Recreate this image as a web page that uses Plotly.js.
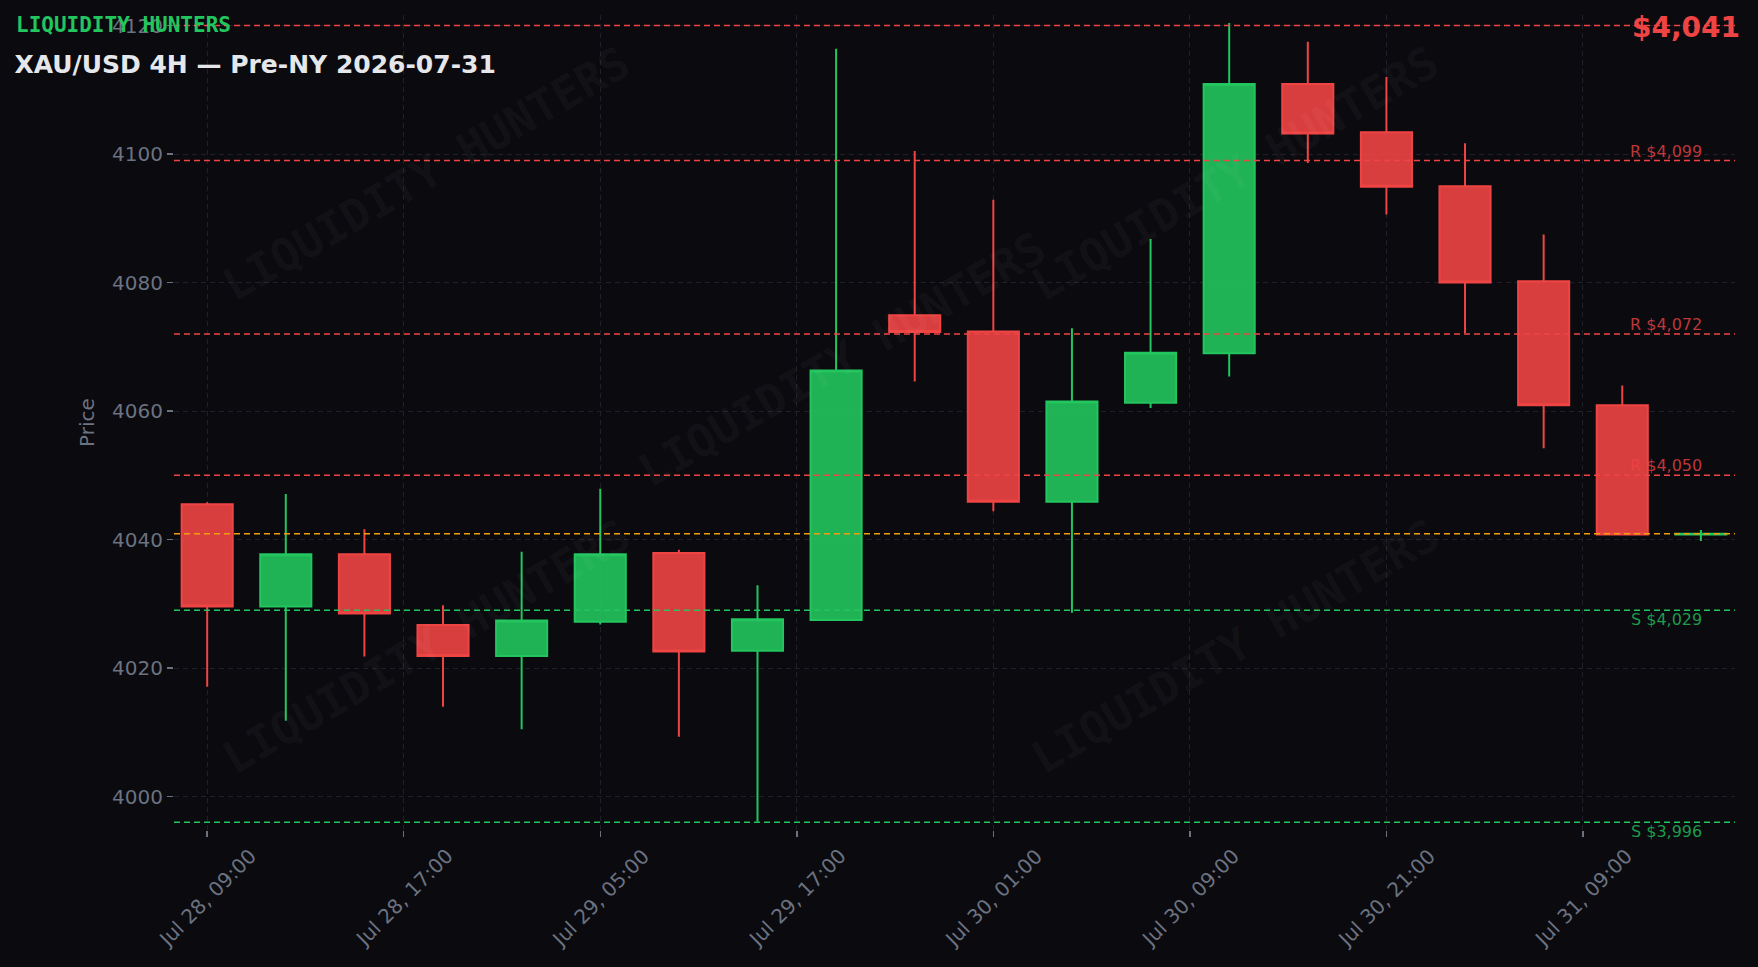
<!DOCTYPE html>
<html>
<head>
<meta charset="utf-8">
<script src="https://cdn.plot.ly/plotly-3.0.1.min.js"></script>
<style>
  html, body { margin: 0; padding: 0; background: #0a0a0f; }
  #chart { width: 1758px; height: 967px; }
</style>
</head>
<body>
<div id="chart"></div>
<script>
// ---- Data ----
const candleIndex = [0,1,2,3,4,5,6,7,8,9,10,11,12,13,14,15,16,17,18,19];
const opens  = [4045.5, 4029.6, 4037.7, 4026.7, 4021.9, 4027.2, 4037.9, 4022.7, 4027.5, 4074.9, 4072.4, 4045.9, 4061.3, 4069.0, 4110.9, 4103.4, 4095.0, 4080.2, 4060.9, 4040.8];
const highs  = [4045.8, 4047.1, 4041.6, 4029.8, 4038.1, 4047.9, 4038.4, 4032.9, 4116.4, 4100.5, 4092.9, 4072.9, 4086.8, 4120.4, 4117.5, 4112.0, 4101.7, 4087.5, 4064.0, 4041.5];
const lows   = [4017.1, 4011.8, 4021.8, 4014.0, 4010.5, 4026.8, 4009.3, 3996.1, 4027.5, 4064.6, 4044.4, 4028.6, 4060.5, 4065.4, 4098.6, 4090.6, 4072.1, 4054.2, 4040.7, 4039.8];
const closes = [4029.6, 4037.7, 4028.5, 4021.9, 4027.4, 4037.7, 4022.6, 4027.6, 4066.3, 4072.3, 4045.9, 4061.5, 4069.1, 4110.9, 4103.2, 4094.9, 4080.0, 4060.9, 4040.8, 4040.9];

const tickPositions = [0, 2.5, 5, 7.5, 10, 12.5, 15, 17.5];
const tickLabels = ['Jul 28, 09:00', 'Jul 28, 17:00', 'Jul 29, 05:00', 'Jul 29, 17:00',
                    'Jul 30, 01:00', 'Jul 30, 09:00', 'Jul 30, 21:00', 'Jul 31, 09:00'];

const rangeHigh = 4120;
const resistanceLevels = [4099, 4072, 4050];
const supportLevels = [4029, 3996];

const brand = 'LIQUIDITY HUNTERS';
const titleText = 'XAU/USD 4H — Pre-NY 2026-07-31';

// ---- Styles ----
const GREEN = '#22c55e', RED = '#ef4444', ORANGE = '#f59e0b';
const BG = '#0a0a0f', GRID = '#1f2029', MUTED = '#6b7280';
const LVL_DASH = '6px,4px';

const fmt = v => '$' + v.toLocaleString('en-US', {maximumFractionDigits: 0});
const lastClose = closes[closes.length - 1];

const trace = {
  type: 'candlestick',
  x: candleIndex,
  open: opens, high: highs, low: lows, close: closes,
  increasing: { line: { color: GREEN, width: 2 }, fillcolor: 'rgba(34,197,94,0.9)' },
  decreasing: { line: { color: RED, width: 2 }, fillcolor: 'rgba(239,68,68,0.9)' },
  hoverinfo: 'skip',
  showlegend: false
};

const hline = (y, color) => ({
  type: 'line', xref: 'paper', x0: 0, x1: 1, yref: 'y', y0: y, y1: y,
  line: { color: color, width: 1.5, dash: LVL_DASH }
});

const shapes = [hline(rangeHigh, RED)]
  .concat(resistanceLevels.map(v => hline(v, RED)))
  .concat(supportLevels.map(v => hline(v, GREEN)))
  .concat([hline(lastClose, ORANGE)]);

const annotations = [];
resistanceLevels.forEach(v => annotations.push({
  xref: 'paper', x: 0.9801, xanchor: 'right', yref: 'y', y: v, yanchor: 'bottom', yshift: -2,
  text: 'R ' + fmt(v), showarrow: false,
  font: { family: 'DejaVu Sans', size: 16, color: 'rgba(239,68,68,0.78)' }
}));
supportLevels.forEach(v => annotations.push({
  xref: 'paper', x: 0.9801, xanchor: 'right', yref: 'y', y: v, yanchor: 'top', yshift: 2,
  text: 'S ' + fmt(v), showarrow: false,
  font: { family: 'DejaVu Sans', size: 16, color: 'rgba(34,197,94,0.78)' }
}));

// x tick labels, rotated around their centre below each tick
tickPositions.forEach((p, i) => annotations.push({
  xref: 'x', x: p, yref: 'paper', y: -0.0834, xanchor: 'center', yanchor: 'middle',
  text: tickLabels[i], showarrow: false, textangle: -45,
  font: { family: 'DejaVu Sans', size: 20, color: MUTED }
}));

// watermarks
const wmPos = [[0.162, 0.805], [0.428, 0.577], [0.162, 0.225], [0.680, 0.805], [0.680, 0.225]];
wmPos.forEach(p => annotations.push({
  xref: 'paper', yref: 'paper', x: p[0], y: p[1], xanchor: 'center', yanchor: 'middle',
  text: brand, showarrow: false, textangle: -30,
  font: { family: 'DejaVu Sans Mono', size: 45, weight: 700, color: 'rgba(255,255,255,0.045)' }
}));

// brand & price
annotations.push({
  xref: 'paper', yref: 'paper', x: -0.1022, y: 0.9877, xanchor: 'left', yanchor: 'middle',
  text: brand, showarrow: false,
  font: { family: 'DejaVu Sans Mono', size: 21, weight: 700, color: GREEN }
});
annotations.push({
  xref: 'paper', yref: 'paper', x: 1.0045, y: 0.9845, xanchor: 'right', yanchor: 'middle',
  text: fmt(lastClose), showarrow: false,
  font: { family: 'DejaVu Sans', size: 28, weight: 700, color: RED }
});

const layout = {
  width: 1758, height: 967,
  paper_bgcolor: BG, plot_bgcolor: BG,
  margin: { l: 174, r: 23, t: 15, b: 137 },
  font: { family: 'DejaVu Sans', color: MUTED },
  title: {
    text: titleText, xref: 'container', yref: 'container',
    x: 0.0082, xanchor: 'left', y: 0.934, yanchor: 'middle',
    font: { family: 'DejaVu Sans', size: 25, weight: 700, color: '#e5e7eb' }
  },
  showlegend: false,
  boxgap: 0.35,
  boxgroupgap: 0,
  xaxis: {
    range: [-0.422, 19.434],
    tickmode: 'array', tickvals: tickPositions, ticktext: tickLabels,
    showticklabels: false,
    showgrid: true, gridcolor: GRID, griddash: '5px,4px', gridwidth: 1,
    ticks: 'outside', ticklen: 6, tickwidth: 1.5, tickcolor: MUTED,
    zeroline: false, showline: false,
    rangeslider: { visible: false }
  },
  yaxis: {
    range: [3994.8, 4121.65],
    tick0: 4000, dtick: 20,
    tickfont: { size: 20, color: MUTED },
    title: { text: 'Price', font: { size: 20, color: MUTED }, standoff: 12 },
    showgrid: true, gridcolor: GRID, griddash: '5px,4px', gridwidth: 1,
    ticks: 'outside', ticklen: 6, tickwidth: 1.5, tickcolor: MUTED,
    zeroline: false, showline: false
  },
  shapes: shapes,
  annotations: annotations
};

Plotly.newPlot('chart', [trace], layout, { displayModeBar: false, staticPlot: true });
</script>
</body>
</html>
